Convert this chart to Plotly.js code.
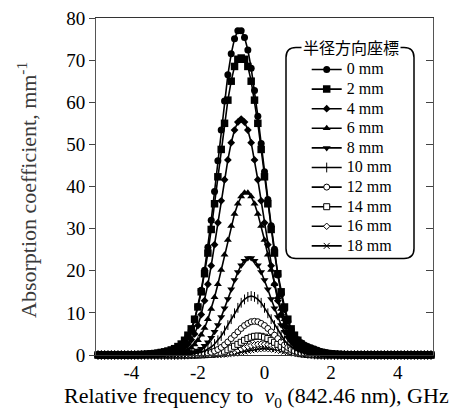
<!DOCTYPE html>
<html><head><meta charset="utf-8">
<script src="https://cdn.plot.ly/plotly-3.0.1.min.js"></script>
<style>html,body{margin:0;padding:0;background:#fff;}#chart{width:454px;height:411px;}</style>
</head><body><div id="chart"></div>
<script>
// Relative frequency grid (GHz)
const freq = [-5,-4.9,-4.8,-4.7,-4.6,-4.5,-4.4,-4.3,-4.2,-4.1,-4,-3.9,-3.8,-3.7,-3.6,-3.5,-3.4,-3.3,-3.2,-3.1,-3,-2.9,-2.8,-2.7,-2.6,-2.5,-2.4,-2.3,-2.2,-2.1,-2,-1.9,-1.8,-1.7,-1.6,-1.5,-1.4,-1.3,-1.2,-1.1,-1,-0.9,-0.8,-0.7,-0.6,-0.5,-0.4,-0.3,-0.2,-0.1,0,0.1,0.2,0.3,0.4,0.5,0.6,0.7,0.8,0.9,1,1.1,1.2,1.3,1.4,1.5,1.6,1.7,1.8,1.9,2,2.1,2.2,2.3,2.4,2.5,2.6,2.7,2.8,2.9,3,3.1,3.2,3.3,3.4,3.5,3.6,3.7,3.8,3.9,4,4.1,4.2,4.3,4.4,4.5,4.6,4.7,4.8,4.9,5];

const seriesNames = ['0 mm','2 mm','4 mm','6 mm','8 mm','10 mm','12 mm','14 mm','16 mm','18 mm'];

const abs0mm = [0,0,0,0,0,0,0,0,
0.04,0.05,0.06,0.08,0.1,0.13,0.17,0.22,0.28,0.35,
0.45,0.55,0.7,0.85,1.1,1.4,1.8,2.4,3.2,4.4,
5.9,8.3,11.5,15.4,20.1,25.6,32.0,38.8,46.1,53.4,
60.3,66.5,71.5,75.1,77.0,77.0,75.4,72.4,68.1,62.8,
56.7,50.2,43.5,36.9,30.7,25.1,19.0,14.5,10.8,8.0,
6.0,4.6,3.6,2.9,2.4,2.0,1.7,1.4,1.1,0.85,
0.65,0.5,0.35,0.25,0.18,0.12,0.08,0.05,
0,0,0,0,0,0,0,0,0,0,0,0,0,0,0,0,0,0,0,0,0,0,0,0,0];

const abs2mm = [0,0,0,0,0,0,0,0,0,0,
0.04,0.06,0.08,0.1,0.15,0.2,0.27,0.35,0.45,0.6,
0.75,0.95,1.2,1.5,2.0,2.6,3.5,4.7,6.2,8.5,
11.4,15.0,19.3,24.2,29.8,35.9,42.3,48.8,55.0,60.5,
65.0,68.5,70.2,70.5,70.2,68.5,65.0,60.5,55.0,48.8,
42.3,35.9,29.8,24.2,19.3,15.0,11.4,8.5,6.2,4.7,
3.5,2.6,2.0,1.5,1.2,0.95,0.75,0.6,0.45,0.35,
0.27,0.2,0.15,0.1,0.08,0.06,0.04,
0,0,0,0,0,0,0,0,0,0,0,0,0,0,0,0,0,0,0,0,0,0,0,0];

const abs4mm = [0,0,0,0,0,0,0,0,0,0,0,0,0,0,0,
0.05,0.07,0.1,0.15,0.2,0.3,0.4,0.55,0.75,1.0,
1.4,1.9,2.6,3.6,5.0,7.0,9.6,12.9,16.8,21.2,
26.2,31.4,36.6,41.6,46.3,50.4,53.4,55.3,56.0,
55.3,53.4,50.4,46.3,41.6,36.6,31.4,26.2,21.2,16.8,
12.9,9.6,7.0,5.0,3.6,2.6,1.9,1.4,1.0,0.75,
0.55,0.4,0.3,0.2,0.15,0.1,0.07,0.05,
0,0,0,0,0,0,0,0,0,0,0,0,0,0,0,0,0,0,0,0,0,0,0,0,0,0,0,0,0];

const abs6mm = [0,0,0,0,0,0,0,0,0,0,0,0,0,0,0,0,0,0,
0.05,0.08,0.12,0.17,0.24,0.32,0.45,0.6,0.85,1.2,
1.7,2.5,3.5,4.8,6.4,8.5,10.9,13.7,16.8,20.2,
23.8,27.3,30.6,33.5,35.9,37.6,38.5,
38.5,37.6,35.9,33.5,30.6,27.3,23.8,20.2,16.8,13.7,
10.9,8.5,6.4,4.8,3.5,2.5,1.7,1.2,0.85,0.6,
0.45,0.32,0.24,0.17,0.12,0.08,0.05,
0,0,0,0,0,0,0,0,0,0,0,0,0,0,0,0,0,0,0,0,0,0,0,0,0,0,0,0,0];

const abs8mm = [0,0,0,0,0,0,0,0,0,0,0,0,0,0,0,0,0,0,0,0,0,0,
0.05,0.07,0.1,0.15,0.22,0.33,0.48,0.7,1.05,1.5,
2.2,3.0,4.1,5.5,7.1,9.0,11.1,13.3,15.6,17.8,
19.7,21.3,22.4,23.0,
23.0,22.4,21.3,19.7,17.8,15.6,13.3,11.1,9.0,7.1,
5.5,4.1,3.0,2.2,1.5,1.05,0.7,0.48,0.33,0.22,
0.15,0.1,0.07,0.05,
0,0,0,0,0,0,0,0,0,0,0,0,0,0,0,0,0,0,0,0,0,0,0,0,0,0,0,0,0,0,0];

const abs10mm = [0,0,0,0,0,0,0,0,0,0,0,0,0,0,0,0,0,0,0,0,0,0,0,0,0,
0.06,0.09,0.13,0.2,0.3,0.45,0.65,0.95,1.35,1.9,
2.6,3.5,4.5,5.8,7.1,8.5,9.9,11.2,12.4,13.2,
13.8,14.0,
13.8,13.2,12.4,11.2,9.9,8.5,7.1,5.8,4.5,3.5,
2.6,1.9,1.35,0.95,0.65,0.45,0.3,0.2,0.13,0.09,
0.06,
0,0,0,0,0,0,0,0,0,0,0,0,0,0,0,0,0,0,0,0,0,0,0,0,0,0,0,0,0,0,0,0,0];

const abs12mm = [0,0,0,0,0,0,0,0,0,0,0,0,0,0,0,0,0,0,0,0,0,0,0,0,0,0,0,0,
0.04,0.07,0.11,0.18,0.28,0.43,0.65,0.94,1.3,1.8,
2.4,3.1,3.9,4.7,5.5,6.3,7.0,7.5,7.9,8.0,
7.9,7.5,7.0,6.3,5.5,4.7,3.9,3.1,2.4,1.8,
1.3,0.94,0.65,0.43,0.28,0.18,0.11,0.07,0.04,
0,0,0,0,0,0,0,0,0,0,0,0,0,0,0,0,0,0,0,0,0,0,0,0,0,0,0,0,0,0,0,0,0,0];

const abs14mm = [0,0,0,0,0,0,0,0,0,0,0,0,0,0,0,0,0,0,0,0,0,0,0,0,0,0,0,0,0,0,0,
0.05,0.08,0.13,0.2,0.31,0.46,0.65,0.91,1.24,1.62,
2.06,2.53,3.02,3.49,3.9,4.22,4.43,4.5,
4.43,4.22,3.9,3.49,3.02,2.53,2.06,1.62,1.24,0.91,
0.65,0.46,0.31,0.2,0.13,0.08,0.05,
0,0,0,0,0,0,0,0,0,0,0,0,0,0,0,0,0,0,0,0,0,0,0,0,0,0,0,0,0,0,0,0,0,0,0];

const abs16mm = [0,0,0,0,0,0,0,0,0,0,0,0,0,0,0,0,0,0,0,0,0,0,0,0,0,0,0,0,0,0,0,0,0,
0.04,0.06,0.1,0.16,0.24,0.35,0.5,0.68,0.9,1.16,
1.43,1.72,2.0,2.24,2.43,2.56,2.6,
2.56,2.43,2.24,2.0,1.72,1.43,1.16,0.9,0.68,0.5,
0.35,0.24,0.16,0.1,0.06,0.04,
0,0,0,0,0,0,0,0,0,0,0,0,0,0,0,0,0,0,0,0,0,0,0,0,0,0,0,0,0,0,0,0,0,0,0];

const abs18mm = [0,0,0,0,0,0,0,0,0,0,0,0,0,0,0,0,0,0,0,0,0,0,0,0,0,0,0,0,0,0,0,0,0,0,0,
0.04,0.06,0.09,0.14,0.2,0.29,0.39,0.52,0.67,0.83,
0.99,1.15,1.29,1.4,1.48,1.5,
1.48,1.4,1.29,1.15,0.99,0.83,0.67,0.52,0.39,0.29,
0.2,0.14,0.09,0.06,0.04,
0,0,0,0,0,0,0,0,0,0,0,0,0,0,0,0,0,0,0,0,0,0,0,0,0,0,0,0,0,0,0,0,0,0,0];

const xTickVals = [-4,-2,0,2,4];
const xTickText = ['-4','-2','0','2','4'];
const legendTitle = '半径方向座標';

const seriesValues = [abs0mm,abs2mm,abs4mm,abs6mm,abs8mm,abs10mm,abs12mm,abs14mm,abs16mm,abs18mm];
const markerStyles = [
  {symbol:'circle', size:7, color:'#000'},
  {symbol:'square', size:7.5, color:'#000'},
  {symbol:'diamond', size:6, color:'#000'},
  {symbol:'triangle-up', size:7, color:'#000'},
  {symbol:'triangle-down', size:7, color:'#000'},
  {symbol:'line-ns', size:7, color:'#000', line:{color:'#000', width:1}},
  {symbol:'circle', size:6, color:'#fff', line:{color:'#000', width:1}},
  {symbol:'square', size:6, color:'#fff', line:{color:'#000', width:1}},
  {symbol:'diamond', size:5, color:'#fff', line:{color:'#000', width:1}},
  {symbol:'x-thin', size:6, color:'#000', line:{color:'#000', width:1}}
];

const serif = '"Liberation Serif", "Times New Roman", serif';
const traces = [];
for (let i = seriesValues.length - 1; i >= 0; i--) {
  traces.push({
    type:'scatter', mode:'lines+markers', x:freq, y:seriesValues[i],
    name:'<span style="font-size:16px">' + seriesNames[i] + '</span>',
    line:{color:'#000', width:1.6},
    marker:markerStyles[i],
    cliponaxis:false
  });
}
traces.push({type:'scatter', x:[], y:[], yaxis:'y2', showlegend:false, hoverinfo:'skip'});

// pixel helpers for plot area (l=96, t=18, w=337, h=337)
const L=96, T=18, W=337, H=337;
const px = p => (p - L)/W;
const py = p => (T + H - p)/H;

const bx1 = px(286), bx2 = px(414), byT = py(47.5), byB = py(258.5), rx = 10/W, ry = 10/H;
const boxPath = `M${bx1+rx},${byT} L${bx2-rx},${byT} Q${bx2},${byT} ${bx2},${byT-ry} L${bx2},${byB+ry} Q${bx2},${byB} ${bx2-rx},${byB} L${bx1+rx},${byB} Q${bx1},${byB} ${bx1},${byB+ry} L${bx1},${byT-ry} Q${bx1},${byT} ${bx1+rx},${byT} Z`;

const layout = {
  width:454, height:411,
  margin:{l:L, r:454-L-W, t:T, b:411-T-H},
  paper_bgcolor:'#fff', plot_bgcolor:'#fff',
  font:{family:serif, color:'#000', size:19},
  showlegend:true,
  legend:{x:px(306.7), y:py(54.7), xanchor:'left', yanchor:'top', bgcolor:'rgba(0,0,0,0)', borderwidth:0,
          traceorder:'reversed', font:{family:serif, size:12.77, color:'#000'}, tracegroupgap:0},
  xaxis:{range:[-5.06,5.06], tickvals:xTickVals, ticktext:xTickText, ticks:'', showline:true, mirror:true,
         linecolor:'#333', linewidth:1, showgrid:false, zeroline:false, tickfont:{size:19, family:serif, color:'#000'}},
  yaxis:{range:[0,80], dtick:10, ticks:'outside', ticklen:6, tickcolor:'#444', showline:true, linecolor:'#555',
         linewidth:1, showgrid:false, zeroline:false, tickfont:{size:19, family:serif, color:'#000'}},
  yaxis2:{overlaying:'y', side:'right', range:[0,80], dtick:10, ticks:'inside', ticklen:7, tickcolor:'#444',
          showticklabels:false, showline:true, linecolor:'#555', linewidth:1, showgrid:false, zeroline:false},
  shapes:[{type:'path', xref:'paper', yref:'paper', path:boxPath, line:{color:'#000', width:1.5}, fillcolor:'rgba(0,0,0,0)'}],
  annotations:[
    {text:legendTitle, xref:'paper', yref:'paper', x:px(351), y:py(47.5), xanchor:'center', yanchor:'middle',
     showarrow:false, bgcolor:'#fff', borderpad:1, font:{family:'"Noto Sans CJK JP"', size:16, color:'#000'}},
    {text:'Relative frequency to\u00A0 <i>ν</i><sub>0</sub> (842.46 nm), GHz', xref:'paper', yref:'paper',
     x:px(256.5), y:py(397), xanchor:'center', yanchor:'middle', showarrow:false,
     font:{family:serif, size:22, color:'#000'}},
    {text:'Absorption coefficient, mm<sup>-1</sup>', xref:'paper', yref:'paper', x:px(27), y:py(190),
     xanchor:'center', yanchor:'middle', textangle:-90, showarrow:false,
     font:{family:serif, size:22, color:'#3a3a3a'}}
  ]
};
Plotly.newPlot('chart', traces, layout, {staticPlot:true, displayModeBar:false});
</script></body></html>
